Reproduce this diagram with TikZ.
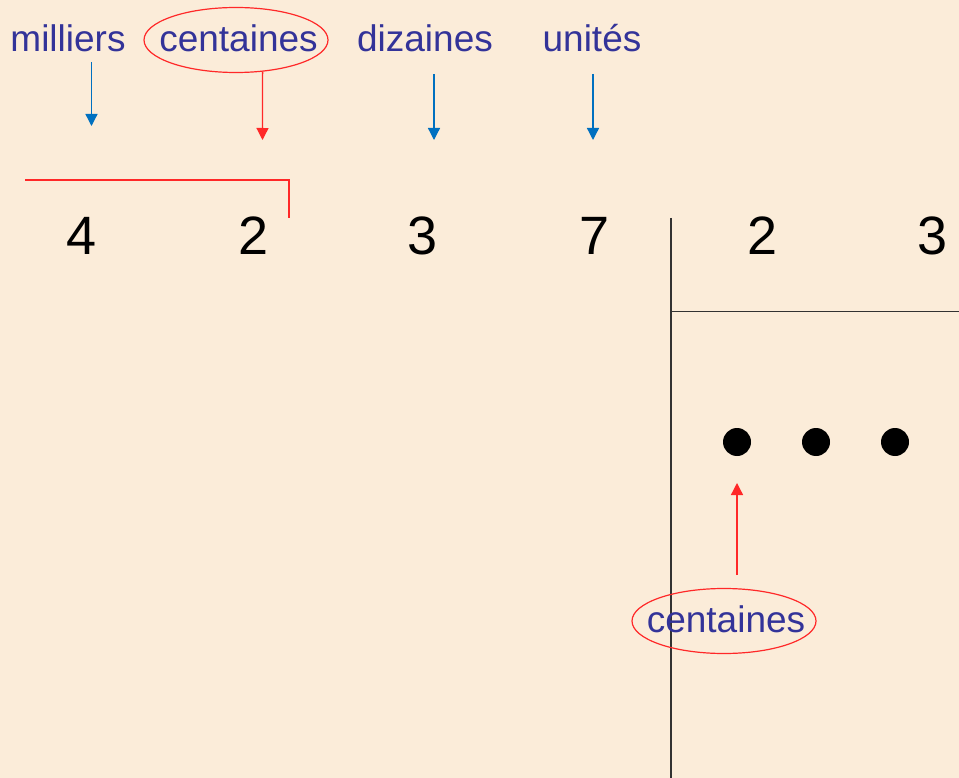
\documentclass[tikz,border=0pt]{standalone}
\usepackage{fontspec}
\setmainfont{Liberation Sans}
\usetikzlibrary{arrows.meta,shapes.geometric}
\definecolor{bgc}{RGB}{251,236,217}
\definecolor{lblue}{RGB}{51,51,153}
\definecolor{abl}{RGB}{0,112,192}
\definecolor{rd}{RGB}{255,40,40}
\definecolor{lgray}{RGB}{50,50,50}
\tikzset{
  lbl/.style={font=\fontsize{37}{40}\selectfont, text=lblue, inner sep=0pt, anchor=base},
  ell/.style={ellipse, draw=rd, line width=1.2pt, minimum width=184pt, minimum height=65pt, inner sep=0pt},
  digit/.style={font=\fontsize{54}{60}\selectfont, text=black, inner sep=0pt, anchor=base},
  bluearrow/.style={draw=abl, line width=1.3pt, -{Triangle[width=12pt,length=12pt]}, abl},
  redarrow/.style={draw=rd, line width=1.3pt, -{Triangle[width=12pt,length=12pt]}, rd},
  redline/.style={draw=rd, line width=1.3pt},
  blackline/.style={draw=lgray, line width=1.3pt},
  dotn/.style={circle, fill=black, minimum size=28pt, inner sep=0pt}
}
\begin{document}
\begin{tikzpicture}[x=1pt,y=-1pt]
\useasboundingbox (0,0) rectangle (959,778);
\fill[bgc] (0,0) rectangle (959,778);
% labels
\node[lbl] (mil) at (68,52) {milliers};
\node[lbl] (cen) at (238.5,52) {centaines};
\node[ell] (cenE) at (236,40) {};
\node[lbl] (diz) at (425,52) {dizaines};
\node[lbl] (uni) at (592,52) {unités};
% arrow coordinates
\coordinate (ms) at (91.5,62);  \coordinate (me) at (91.5,126);
\coordinate (ce) at (262.5,140);
\coordinate (ds) at (434,74);   \coordinate (de) at (434,140);
\coordinate (us) at (593,74);   \coordinate (ue) at (593,140);
\draw[bluearrow] (ms) -- (me);
\draw[redarrow] (cenE.-50) -- (ce);
\draw[bluearrow] (ds) -- (de);
\draw[bluearrow] (us) -- (ue);
% red bracket
\coordinate (rb1) at (25,180);
\coordinate (rb2) at (289,180);
\coordinate (rb3) at (289,218);
\draw[redline] (rb1) -- (rb2) -- (rb3);
% digits
\node[digit] (d1) at (82,255) {4};
\node[digit] (d2) at (254,255) {2};
\node[digit] (d3) at (423,255) {3};
\node[digit] (d4) at (595,255) {7};
\node[digit] (q1) at (763,255) {2};
\node[digit] (q2) at (933,255) {3};
% division lines
\coordinate (vt) at (671,218);
\coordinate (vb) at (671,778);
\coordinate (hl) at (671,311.5);
\coordinate (hr) at (959,311.5);
\draw[blackline] (vt) -- (vb);
\draw[blackline] (hl) -- (hr);
% dots
\node[dotn] (p1) at (737,442) {};
\node[dotn] (p2) at (816,442) {};
\node[dotn] (p3) at (895,442) {};
% bottom label
\node[lbl] (cen2) at (726,632) {centaines};
\node[ell] (cen2E) at (724,621) {};
\coordinate (bs) at (737,575);
\coordinate (be) at (737,483);
\draw[redarrow] (bs) -- (be);
\end{tikzpicture}
\end{document}
